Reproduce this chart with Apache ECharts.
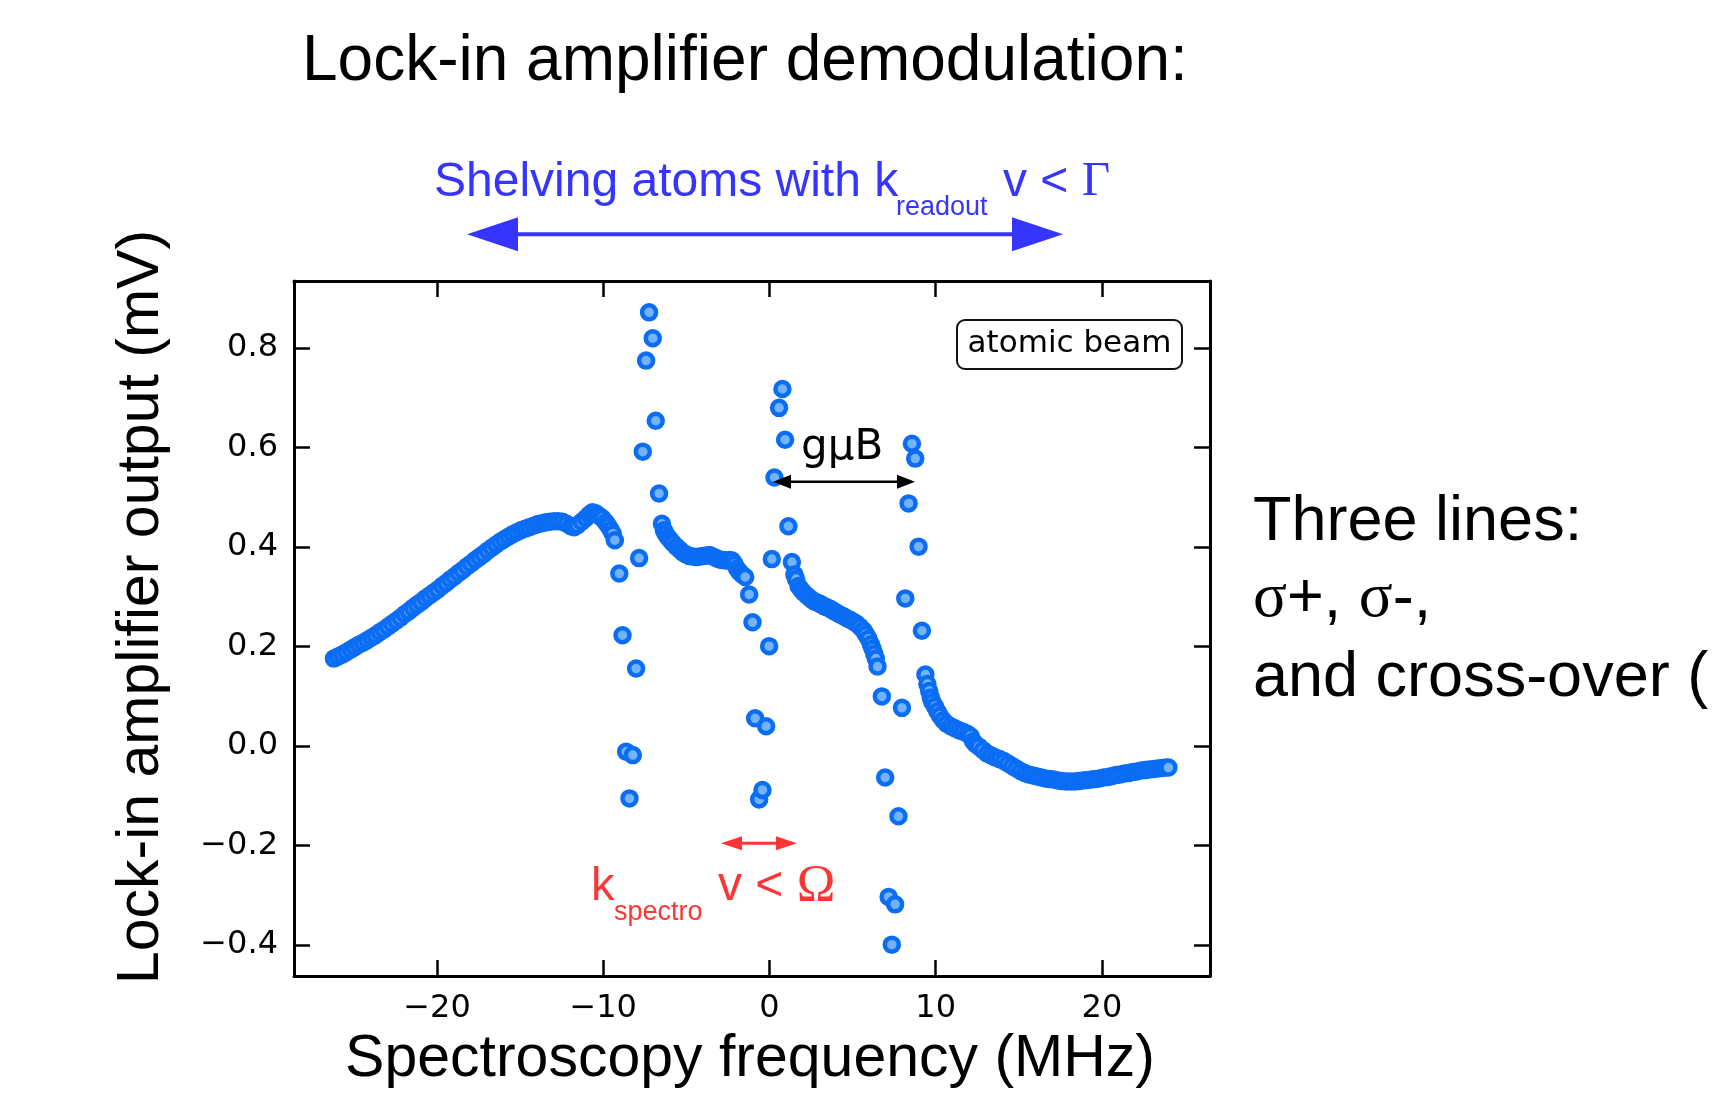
<!DOCTYPE html>
<html><head><meta charset="utf-8">
<script src="https://cdn.jsdelivr.net/npm/echarts@6/dist/echarts.min.js"></script>
<style>html,body{margin:0;padding:0;background:#fff;}#chart{width:1718px;height:1101px;}</style>
</head><body><div id="chart"></div>
<script>
// ---- data (MHz, mV) ----
const xTicks = [-20, -10, 0, 10, 20];
const yTicks = [-0.4, -0.2, 0.0, 0.2, 0.4, 0.6, 0.8];
const xRange = [-28.6, 26.5];
const yRange = [-0.462, 0.935];

const leftWing = [
 [-26.20,0.176],[-25.95,0.180],[-25.70,0.184],[-25.45,0.189],[-25.20,0.194],[-24.95,0.199],[-24.70,0.204],[-24.45,0.208],
 [-24.20,0.213],[-23.95,0.218],[-23.70,0.223],[-23.45,0.229],[-23.20,0.234],[-22.95,0.240],[-22.70,0.246],[-22.45,0.252],
 [-22.20,0.258],[-21.95,0.265],[-21.70,0.271],[-21.45,0.278],[-21.20,0.284],[-20.95,0.290],[-20.70,0.297],[-20.45,0.303],
 [-20.20,0.309],[-19.95,0.315],[-19.70,0.322],[-19.45,0.328],[-19.20,0.335],[-18.95,0.341],[-18.70,0.348],[-18.45,0.354],
 [-18.20,0.361],[-17.95,0.367],[-17.70,0.374],[-17.45,0.380],[-17.20,0.386],[-16.95,0.393],[-16.70,0.399],[-16.45,0.405],
 [-16.20,0.411],[-15.95,0.416],[-15.70,0.421],[-15.45,0.426],[-15.20,0.430],[-14.95,0.434],[-14.70,0.437],[-14.45,0.440],
 [-14.20,0.443],[-13.95,0.446],[-13.70,0.448],[-13.45,0.450],[-13.20,0.451],[-12.95,0.452],[-12.70,0.452],[-12.45,0.451],
 [-12.20,0.447],[-11.95,0.442],[-11.75,0.440],[-11.55,0.444],[-11.30,0.451],[-11.05,0.458],[-10.85,0.465],[-10.65,0.470],
 [-10.45,0.468],[-10.25,0.463],[-10.05,0.458],[-9.85,0.450],[-9.70,0.443],[-9.55,0.435],[-9.42,0.427],[-9.30,0.414]
];
const lineA = [
 [-9.03,0.347],[-8.84,0.223],[-8.62,-0.011],[-8.42,-0.105],[-8.22,-0.018],[-8.02,0.156],[-7.84,0.378],[-7.62,0.592],
 [-7.42,0.775],[-7.24,0.872],[-7.02,0.820],[-6.84,0.654],[-6.64,0.508]
];
const plateauA = [
 [-6.47,0.447],[-6.35,0.434],[-6.25,0.427],[-6.10,0.420],[-5.95,0.414],[-5.80,0.408],[-5.60,0.401],[-5.40,0.395],
 [-5.20,0.389],[-5.00,0.385],[-4.80,0.382],[-4.60,0.381],[-4.40,0.380],[-4.20,0.381],[-4.00,0.382],[-3.80,0.383],
 [-3.60,0.384],[-3.40,0.381],[-3.20,0.378],[-3.00,0.375],[-2.80,0.374],[-2.60,0.373],[-2.40,0.374],[-2.25,0.373],
 [-2.10,0.366],[-1.95,0.357],[-1.80,0.350],[-1.65,0.345],[-1.46,0.340],[-1.22,0.305],[-1.02,0.249]
];
const lineB = [
 [-0.86,0.056],[-0.62,-0.107],[-0.42,-0.088],[-0.20,0.040],[-0.02,0.201],[0.14,0.376],[0.30,0.540],[0.58,0.680],
 [0.78,0.718],[0.94,0.616],[1.14,0.442]
];
const plateauB = [
 [1.35,0.370],[1.50,0.345],[1.60,0.336],[1.75,0.322],[1.90,0.315],[2.05,0.309],[2.25,0.303],[2.45,0.297],
 [2.65,0.292],[2.85,0.289],[3.05,0.286],[3.25,0.282],[3.45,0.279],[3.65,0.276],[3.85,0.272],[4.05,0.268],
 [4.25,0.264],[4.45,0.261],[4.65,0.257],[4.85,0.254],[5.05,0.250],[5.25,0.246],[5.45,0.240],[5.65,0.233],
 [5.80,0.225],[5.96,0.216],[6.10,0.205],[6.20,0.196],[6.30,0.186],[6.40,0.176],[6.50,0.160],[6.76,0.100]
];
const lineC = [
 [6.96,-0.063],[7.17,-0.303],[7.36,-0.399],[7.56,-0.318],[7.76,-0.141],[7.97,0.077],[8.17,0.297],[8.37,0.488],
 [8.57,0.608],[8.77,0.578],[8.97,0.401],[9.17,0.232]
];
const rightWing = [
 [9.38,0.144],[9.50,0.125],[9.61,0.111],[9.70,0.098],[9.80,0.089],[9.95,0.080],[10.10,0.070],[10.25,0.061],
 [10.45,0.052],[10.65,0.045],[10.90,0.040],[11.15,0.036],[11.40,0.032],[11.65,0.029],[11.90,0.025],[12.10,0.020],
 [12.25,0.010],[12.40,0.004],[12.60,-0.001],[12.85,-0.008],[13.10,-0.015],[13.35,-0.019],[13.60,-0.023],[13.85,-0.026],
 [14.10,-0.030],[14.35,-0.035],[14.60,-0.040],[14.85,-0.045],[15.10,-0.050],[15.35,-0.054],[15.60,-0.057],[15.85,-0.059],
 [16.10,-0.061],[16.35,-0.063],[16.60,-0.065],[16.85,-0.066],[17.10,-0.067],[17.35,-0.069],[17.60,-0.070],[17.85,-0.071],
 [18.10,-0.071],[18.35,-0.071],[18.60,-0.070],[18.85,-0.069],[19.10,-0.068],[19.35,-0.067],[19.60,-0.066],[19.85,-0.065],
 [20.10,-0.063],[20.35,-0.062],[20.60,-0.060],[20.85,-0.058],[21.10,-0.057],[21.35,-0.055],[21.60,-0.054],[21.85,-0.052],
 [22.10,-0.051],[22.35,-0.049],[22.60,-0.048],[22.85,-0.047],[23.10,-0.046],[23.35,-0.045],[23.60,-0.044],[23.85,-0.043],
 [24.00,-0.043]
];

const allPoints = [].concat(leftWing, lineA, plateauA, lineB, plateauB, lineC, rightWing)
  .slice().sort((a, b) => a[0] - b[0]);

// ---- styling ----
const SANS = '"Liberation Sans", Arial, sans-serif';
const SERIF = '"Liberation Serif", "Times New Roman", serif';
const DJV = '"DejaVu Sans", sans-serif';
const BLUE = '#3535ff';
const RED = '#ff3535';
const fmtNum = (v, d) => (v < 0 ? '\u2212' : '') + Math.abs(v).toFixed(d);

function xAx(pos, showLabel) {
  return {
    type: 'value', position: pos, min: xRange[0], max: xRange[1],
    axisLine: { show: true, onZero: false, lineStyle: { color: '#000', width: 3 } },
    axisTick: { show: true, inside: true, length: 16, customValues: xTicks, lineStyle: { color: '#000', width: 2.5 } },
    axisLabel: { show: showLabel, customValues: xTicks, margin: 17, color: '#000',
      fontFamily: DJV, fontSize: 32, formatter: v => fmtNum(v, 0) },
    splitLine: { show: false }
  };
}
function yAx(pos, showLabel) {
  return {
    type: 'value', position: pos, min: yRange[0], max: yRange[1],
    axisLine: { show: true, onZero: false, lineStyle: { color: '#000', width: 3 } },
    axisTick: { show: true, inside: true, length: 16, customValues: yTicks, lineStyle: { color: '#000', width: 2.5 } },
    axisLabel: { show: showLabel, customValues: yTicks, margin: 16, color: '#000',
      fontFamily: DJV, fontSize: 32, formatter: v => fmtNum(v, 1) },
    splitLine: { show: false }
  };
}

function txt(x, y, text, font, fill, align) {
  return { type: 'text', x: x, y: y, z: 100, silent: true,
    style: { text: text, font: font, fill: fill, textAlign: align || 'left', textVerticalAlign: 'middle' } };
}
function arrow(x1, x2, y, color, lw, headLen, headHalf) {
  return [
    { type: 'line', z: 90, silent: true, shape: { x1: x1 + headLen * 0.6, y1: y, x2: x2 - headLen * 0.6, y2: y }, style: { stroke: color, lineWidth: lw } },
    { type: 'polygon', z: 91, silent: true, shape: { points: [[x1, y], [x1 + headLen, y - headHalf], [x1 + headLen, y + headHalf]] }, style: { fill: color } },
    { type: 'polygon', z: 91, silent: true, shape: { points: [[x2, y], [x2 - headLen, y - headHalf], [x2 - headLen, y + headHalf]] }, style: { fill: color } }
  ];
}

const chart = echarts.init(document.getElementById('chart'), null, { renderer: 'canvas' });
const graphics = [].concat(
  [
    txt(302, 62, 'Lock-in amplifier demodulation:', '64px ' + SANS, '#000'),
    txt(434, 182.4, 'Shelving atoms with k', '48px ' + SANS, BLUE),
    txt(896, 207.6, 'readout', '27px ' + SANS, BLUE),
    { type: 'text', x: 1003, y: 182.4, z: 100, silent: true, style: { text: '{a|v < }{g|\u0393}', fill: BLUE, textAlign: 'left', textVerticalAlign: 'middle',
      rich: { a: { fontFamily: SANS, fontSize: 48, fill: BLUE }, g: { fontFamily: SERIF, fontSize: 49, fill: BLUE } } } },
    txt(591, 887, 'k', '47px ' + SANS, RED),
    txt(614, 913, 'spectro', '27px ' + SANS, RED),
    { type: 'text', x: 718, y: 887, z: 100, silent: true, style: { text: '{a|v < }{o|\u03A9}', fill: RED, textAlign: 'left', textVerticalAlign: 'middle',
      rich: { a: { fontFamily: SANS, fontSize: 48, fill: RED }, o: { fontFamily: SERIF, fontSize: 52, fill: RED } } } },
    txt(801, 448, 'g\u03BCB', '42px ' + DJV, '#000'),
    { type: 'rect', z: 95, silent: true, shape: { x: 957, y: 320, width: 225, height: 49, r: 8 }, style: { fill: '#fff', stroke: '#111', lineWidth: 2 } },
    txt(1069.5, 344.1, 'atomic beam', '31px ' + DJV, '#000', 'center'),
    txt(1253, 522.2, 'Three lines:', '63px ' + SANS, '#000'),
    { type: 'text', x: 1253, y: 599.8, z: 100, silent: true, style: { text: '{s|\u03C3}+, {s|\u03C3}-,', fill: '#000', textAlign: 'left', textVerticalAlign: 'middle',
      font: '63px ' + SANS, rich: { s: { fontFamily: SERIF, fontSize: 63, fill: '#000' } } } },
    txt(1253, 678.5, 'and cross-over (', '63px ' + SANS, '#000'),
    txt(750, 1059.6, 'Spectroscopy frequency (MHz)', '59px ' + SANS, '#000', 'center'),
    { type: 'text', x: 142, y: 607, rotation: Math.PI / 2, z: 100, silent: true,
      style: { text: 'Lock-in amplifier output (mV)', font: '59px ' + SANS, fill: '#000', textAlign: 'center', textVerticalAlign: 'middle' } }
  ],
  arrow(467, 1063, 234.3, BLUE, 4, 51, 17),
  arrow(773, 915, 481.7, '#000', 2.5, 18, 7),
  arrow(721, 797, 843.3, RED, 3, 21, 7)
);

chart.setOption({
  animation: false,
  backgroundColor: '#fff',
  grid: { left: 294, right: 508, top: 281, bottom: 125, containLabel: false },
  xAxis: [xAx('bottom', true), xAx('top', false)],
  yAxis: [yAx('left', true), yAx('right', false)],
  series: [{
    type: 'scatter', xAxisIndex: 0, yAxisIndex: 0,
    data: allPoints,
    symbol: 'circle', symbolSize: 14,
    itemStyle: { color: '#72b3fb', borderColor: '#0b6cf4', borderWidth: 4.5, opacity: 1 },
    emphasis: { disabled: true }, z: 5
  }],
  graphic: graphics
});
</script></body></html>
